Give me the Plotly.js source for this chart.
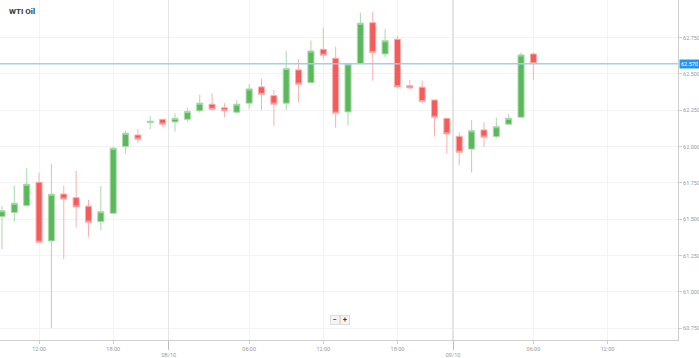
<!DOCTYPE html>
<html>
<head>
<meta charset="utf-8">
<script src="https://cdn.plot.ly/plotly-3.0.1.min.js"></script>
<style>html,body{margin:0;padding:0;background:#fff;}#chart{width:699px;height:358px;}</style>
</head>
<body>
<div id="chart"></div>
<script>
// ---- data ----
const title = "WTI Oil";
const dates = ["07/10", "08/10", "09/10"];
const times = [
  "07/10 09:00","07/10 10:00","07/10 11:00","07/10 12:00","07/10 13:00","07/10 14:00","07/10 15:00",
  "07/10 16:00","07/10 17:00","07/10 18:00","07/10 19:00","07/10 20:00","07/10 21:00","07/10 22:00",
  "08/10 00:00","08/10 01:00","08/10 02:00","08/10 03:00","08/10 04:00","08/10 05:00","08/10 06:00",
  "08/10 07:00","08/10 08:00","08/10 09:00","08/10 10:00","08/10 11:00","08/10 12:00","08/10 13:00",
  "08/10 14:00","08/10 15:00","08/10 16:00","08/10 17:00","08/10 18:00","08/10 19:00","08/10 20:00",
  "08/10 21:00","08/10 22:00",
  "09/10 00:00","09/10 01:00","09/10 02:00","09/10 03:00","09/10 04:00","09/10 05:00","09/10 06:00"
];
const open = [61.518, 61.546, 61.594, 61.755, 61.351, 61.674, 61.649, 61.590, 61.484, 61.541, 62.000, 62.080, 62.165, 62.188, 62.170, 62.188, 62.246, 62.292, 62.268, 62.237, 62.299, 62.411, 62.351, 62.299, 62.528, 62.440, 62.670, 62.608, 62.239, 62.571, 62.853, 62.638, 62.739, 62.420, 62.409, 62.321, 62.195, 62.071, 61.983, 62.115, 62.069, 62.154, 62.202, 62.638];
const high = [61.592, 61.731, 61.851, 61.821, 61.881, 61.731, 61.833, 61.633, 61.729, 62.000, 62.110, 62.120, 62.211, 62.190, 62.230, 62.268, 62.356, 62.367, 62.299, 62.321, 62.430, 62.466, 62.390, 62.658, 62.603, 62.729, 62.819, 62.688, 62.576, 62.922, 62.929, 62.810, 62.762, 62.459, 62.454, 62.321, 62.195, 62.098, 62.182, 62.168, 62.199, 62.225, 62.647, 62.647];
const low = [61.294, 61.484, 61.590, 61.340, 60.750, 61.225, 61.442, 61.380, 61.422, 61.540, 61.954, 62.023, 62.120, 62.137, 62.103, 62.172, 62.234, 62.248, 62.202, 62.225, 62.259, 62.252, 62.144, 62.252, 62.304, 62.440, 62.601, 62.131, 62.144, 62.571, 62.452, 62.615, 62.402, 62.395, 62.296, 62.069, 61.950, 61.874, 61.822, 62.000, 62.058, 62.154, 62.202, 62.459];
const close = [61.559, 61.610, 61.741, 61.342, 61.672, 61.638, 61.585, 61.480, 61.552, 61.989, 62.092, 62.051, 62.175, 62.154, 62.195, 62.241, 62.299, 62.257, 62.246, 62.292, 62.397, 62.360, 62.292, 62.538, 62.429, 62.658, 62.629, 62.230, 62.569, 62.849, 62.647, 62.729, 62.411, 62.404, 62.310, 62.202, 62.087, 61.961, 62.109, 62.065, 62.137, 62.195, 62.631, 62.570];
const currentPrice = 62.570;
const timeTicks = ["07/10 12:00","07/10 18:00","08/10 06:00","08/10 12:00","08/10 18:00","09/10 06:00","09/10 12:00"];
const priceTicks = [60.75, 61.00, 61.25, 61.50, 61.75, 62.00, 62.25, 62.50, 62.75];

// ---- hourly slots with the daily 23:00 break removed ----
const START_HOUR = 9;
function slot(t) {
  const [d, hm] = t.split(" ");
  const di = dates.indexOf(d);
  const h = parseInt(hm.split(":")[0], 10);
  return di * 23 + h - START_HOUR;
}
const xs = times.map(slot);
const dateBounds = dates.slice(1).map(d => slot(d + " 00:00") - 0.5);

const green = "#5cb85c", red = "#f45b5b";
const font = "Roboto, 'Open Sans', Arial, sans-serif";

const traces = [
  {
    type: "candlestick",
    x: xs, open: open, high: high, low: low, close: close,
    increasing: { line: { color: "#a8dba8", width: 1 }, fillcolor: green },
    decreasing: { line: { color: "#fbb0b0", width: 1 }, fillcolor: red },
    whiskerwidth: 0,
    hoverinfo: "skip",
    showlegend: false
  },
  {
    type: "scatter", mode: "markers",
    x: dateBounds, y: dateBounds.map(() => currentPrice),
    xaxis: "x2", yaxis: "y",
    marker: { opacity: 0, size: 1 },
    hoverinfo: "skip", showlegend: false
  }
];

const xRange = [-0.16, 54.7];
const layout = {
  width: 699, height: 358,
  margin: { l: 0, r: 21, t: 0, b: 18 },
  paper_bgcolor: "#ffffff", plot_bgcolor: "#ffffff",
  font: { family: font, color: "#999" },
  title: {
    text: "<b>" + title + "</b>",
    x: 9 / 699, xanchor: "left", xref: "container",
    y: 1 - 11 / 358, yanchor: "middle", yref: "container",
    font: { size: 8, color: "#333", family: font }
  },
  xaxis: {
    type: "linear", range: xRange,
    rangeslider: { visible: false },
    tickvals: timeTicks.map(slot),
    ticktext: timeTicks.map(t => t.split(" ")[1]),
    ticks: "outside", ticklen: 3, tickcolor: "#ccc",
    showline: true, linecolor: "#cfcfcf", linewidth: 1,
    showgrid: true, gridcolor: "#f3f3f3", gridwidth: 1,
    zeroline: false,
    tickfont: { size: 5.5, color: "#999", family: font },
    fixedrange: true
  },
  xaxis2: {
    type: "linear", range: xRange, overlaying: "x", anchor: "y", side: "bottom",
    tickvals: dateBounds,
    ticktext: dates.slice(1),
    ticks: "outside", ticklen: 9, tickcolor: "#bbb",
    showline: false,
    showgrid: true, gridcolor: "#e4e4e4", gridwidth: 1.2,
    zeroline: false,
    tickfont: { size: 5.5, color: "#999", family: font },
    fixedrange: true
  },
  yaxis: {
    side: "right", range: [60.669, 63.009],
    tickvals: priceTicks,
    ticktext: priceTicks.map(v => v.toFixed(3)),
    ticks: "outside", ticklen: 3, tickcolor: "#ccc",
    showline: true, linecolor: "#cfcfcf", linewidth: 1,
    showgrid: true, gridcolor: "#f3f3f3", gridwidth: 1,
    zeroline: false,
    tickfont: { size: 5.5, color: "#999", family: font },
    fixedrange: true
  },
  shapes: [
    {
      type: "line", xref: "paper", x0: 0, x1: 1, yref: "y", y0: currentPrice, y1: currentPrice,
      line: { color: "#9fd0f0", width: 1.5 }, layer: "above"
    }
  ],
  annotations: [
    {
      xref: "paper", x: 1, xanchor: "left", xshift: 1,
      yref: "y", y: currentPrice, yanchor: "middle",
      text: currentPrice.toFixed(3), showarrow: false,
      bgcolor: "#2196f3", borderpad: 1,
      font: { size: 5.5, color: "#ffffff", family: font }
    },
    {
      xref: "paper", x: 335 / 678, yref: "paper", y: 20 / 340, xanchor: "center", yanchor: "middle",
      text: "<b>−</b>", showarrow: false, bgcolor: "#f4f4f4", bordercolor: "#dddddd", borderwidth: 1,
      borderpad: 0, width: 8, height: 8, font: { size: 7, color: "#333", family: font }
    },
    {
      xref: "paper", x: 345 / 678, yref: "paper", y: 20 / 340, xanchor: "center", yanchor: "middle",
      text: "<b>+</b>", showarrow: false, bgcolor: "#f4f4f4", bordercolor: "#dddddd", borderwidth: 1,
      borderpad: 0, width: 8, height: 8, font: { size: 7, color: "#333", family: font }
    }
  ]
};

Plotly.newPlot("chart", traces, layout, { displayModeBar: false, staticPlot: true });
</script>
</body>
</html>
